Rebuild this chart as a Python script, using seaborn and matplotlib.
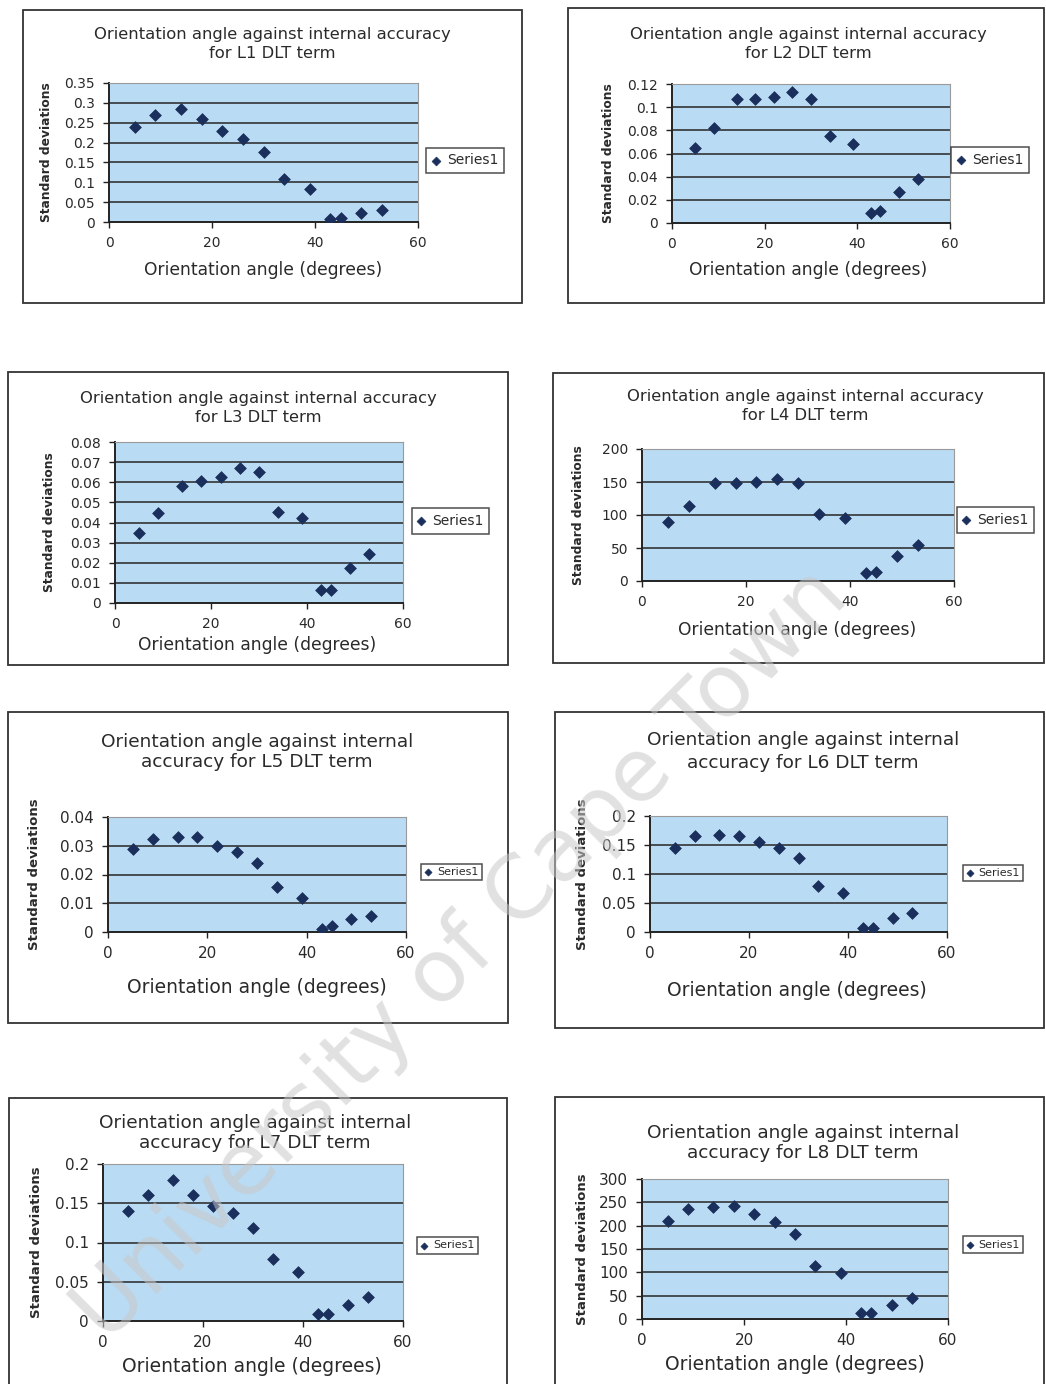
import numpy as np
import pandas as pd
import matplotlib
matplotlib.use("Agg")
import matplotlib.pyplot as plt
from matplotlib.patches import Rectangle
from matplotlib.ticker import FuncFormatter
import seaborn as sns

# Orientation angles (degrees), shared by every DLT term
angles = [5, 9, 14, 18, 22, 26, 30, 34, 39, 43, 45, 49, 53]

# Standard deviations of each DLT term
sd_L1 = [0.24, 0.27, 0.285, 0.26, 0.23, 0.21, 0.175, 0.108, 0.082, 0.008, 0.009, 0.023, 0.030]
sd_L2 = [0.065, 0.082, 0.107, 0.107, 0.109, 0.113, 0.107, 0.075, 0.068, 0.009, 0.010, 0.027, 0.038]
sd_L3 = [0.035, 0.0445, 0.058, 0.0605, 0.0625, 0.067, 0.065, 0.045, 0.042, 0.0065, 0.0065, 0.0175, 0.0245]
sd_L4 = [90, 114, 148, 148, 150, 155, 148, 102, 96, 12.5, 14, 38, 54]
sd_L5 = [0.029, 0.0325, 0.033, 0.033, 0.030, 0.028, 0.024, 0.0155, 0.012, 0.001, 0.002, 0.0045, 0.0055]
sd_L6 = [0.145, 0.166, 0.168, 0.166, 0.155, 0.145, 0.127, 0.080, 0.067, 0.007, 0.007, 0.024, 0.033]
sd_L7 = [0.14, 0.16, 0.18, 0.16, 0.146, 0.137, 0.119, 0.079, 0.063, 0.0085, 0.0085, 0.021, 0.030]
sd_L8 = [210, 235, 241, 243, 226, 208, 182, 114, 98, 12, 13.5, 31, 44]

terms = ["L1", "L2", "L3", "L4", "L5", "L6", "L7", "L8"]
series = [sd_L1, sd_L2, sd_L3, sd_L4, sd_L5, sd_L6, sd_L7, sd_L8]
y_max = [0.35, 0.12, 0.08, 200, 0.04, 0.2, 0.2, 300]
y_step = [0.05, 0.02, 0.01, 50, 0.01, 0.05, 0.05, 50]
x_ticks = [0, 20, 40, 60]
legend_label = "Series1"
x_label = "Orientation angle (degrees)"
y_label = "Standard deviations"

W, H = 1046, 1384
sns.set_theme(style="white")
plt.rcParams["font.family"] = ["DejaVu Sans"]

fig = plt.figure(figsize=(W / 100, H / 100), dpi=100)
fig.patch.set_facecolor("white")


def fx(x):
    return x / W


def fy(y):
    return 1 - y / H


# layout in pixels: outer frame, plot area, title centre/lines, x label, y label x, legend box
layout = [
    dict(frame=(23, 10, 522, 303), plot=(109, 83, 418, 222), title=(272, 35, 53), xl=(263, 270), ylx=47, leg=(422, 148, 508, 173), small=False),
    dict(frame=(568, 8, 1044, 303), plot=(672, 84, 950, 223), title=(808, 34, 53), xl=(808, 270), ylx=608, leg=(948, 148, 1032, 172), small=False),
    dict(frame=(8, 372, 508, 665), plot=(115, 442, 403, 603), title=(258, 398, 418), xl=(257, 645), ylx=50, leg=(408, 508, 493, 534), small=False),
    dict(frame=(553, 373, 1044, 663), plot=(642, 449, 954, 581), title=(805, 396, 415), xl=(797, 630), ylx=578, leg=(952, 507, 1039, 533), small=False),
    dict(frame=(8, 712, 508, 1023), plot=(108, 817, 406, 932), title=(257, 742, 762), xl=(257, 987), ylx=35, leg=(416, 862, 487, 882), small=True),
    dict(frame=(555, 712, 1044, 1028), plot=(650, 816, 947, 932), title=(803, 740, 763), xl=(797, 990), ylx=583, leg=(958, 863, 1028, 883), small=True),
    dict(frame=(9, 1098, 507, 1392), plot=(103, 1164, 403, 1321), title=(255, 1123, 1143), xl=(252, 1367), ylx=37, leg=(412, 1238, 483, 1253), small=True),
    dict(frame=(555, 1097, 1044, 1392), plot=(642, 1179, 948, 1319), title=(803, 1133, 1153), xl=(795, 1365), ylx=582, leg=(958, 1236, 1028, 1253), small=True),
]

plot_bg = "#b9dbf3"
marker_col = "#1b2f5c"
text_col = "#2a2a2a"

for i, (term, vals, lay) in enumerate(zip(terms, series, layout)):
    # outer chart frame
    x0, y0, x1, y1 = lay["frame"]
    fig.patches.append(Rectangle((fx(x0), fy(y1)), fx(x1 - x0), (y1 - y0) / H,
                                 transform=fig.transFigure, fill=False,
                                 edgecolor="#333333", linewidth=1.3, zorder=0))

    px0, py0, px1, py1 = lay["plot"]
    ax = fig.add_axes([fx(px0), fy(py1), fx(px1 - px0), (py1 - py0) / H])
    ax.set_facecolor(plot_bg)

    df = pd.DataFrame({"angle": angles, "sd": vals})
    sns.scatterplot(data=df, x="angle", y="sd", marker="D", s=36,
                    color=marker_col, edgecolor=marker_col, linewidth=0.5,
                    label=legend_label, ax=ax, zorder=3)

    ax.set_xlim(0, 60)
    ax.set_ylim(0, y_max[i])
    ax.set_xticks(x_ticks)
    yt = np.arange(0, y_max[i] + y_step[i] / 2, y_step[i])
    ax.set_yticks(yt)
    ax.yaxis.set_major_formatter(FuncFormatter(lambda v, p: f"{round(v, 6):g}"))
    for v in yt[1:]:
        ax.axhline(v, color="#262626", linewidth=1.1, zorder=1)

    tick_fs = 10 if not lay["small"] else 11
    ax.tick_params(axis="both", which="major", direction="out", length=4,
                   width=1.0, color="#222222", labelsize=tick_fs,
                   labelcolor=text_col, pad=6, left=True, bottom=True)
    for side in ("left", "bottom"):
        ax.spines[side].set_color("#222222")
        ax.spines[side].set_linewidth(1.4)
    for side in ("top", "right"):
        ax.spines[side].set_color("#9a9a9a")
        ax.spines[side].set_linewidth(0.8)

    pw, ph = px1 - px0, py1 - py0
    lab_fs = 12.3 if not lay["small"] else 13.5
    ax.set_xlabel(x_label, fontsize=lab_fs, color=text_col)
    ax.xaxis.set_label_coords((lay["xl"][0] - px0) / pw, -(lay["xl"][1] - py1) / ph)
    ax.xaxis.label.set_va("center")
    ax.set_ylabel(y_label, fontsize=8.8 if not lay["small"] else 9.5,
                  color=text_col, fontweight="bold")
    ax.yaxis.set_label_coords(-(px0 - lay["ylx"]) / pw, 0.5)
    ax.yaxis.label.set_va("center")

    # chart title in two lines
    tcx, t1, t2 = lay["title"]
    if not lay["small"]:
        line1 = "Orientation angle against internal accuracy"
        line2 = f"for {term} DLT term"
        t_fs = 11.8
    else:
        line1 = "Orientation angle against internal"
        line2 = f"accuracy for {term} DLT term"
        t_fs = 13.3
    fig.text(fx(tcx), fy(t1), line1, ha="center", va="center", fontsize=t_fs, color=text_col)
    fig.text(fx(tcx), fy(t2), line2, ha="center", va="center", fontsize=t_fs, color=text_col)

    # legend box to the right of the plot area
    lx0, ly0, lx1, ly1 = lay["leg"]
    leg_fs = 10 if not lay["small"] else 8
    leg = ax.legend(loc="center", bbox_to_anchor=(fx((lx0 + lx1) / 2), fy((ly0 + ly1) / 2)),
                    bbox_transform=fig.transFigure, fontsize=leg_fs, frameon=True,
                    fancybox=False, handlelength=0.6, handletextpad=0.5,
                    borderpad=0.4 if not lay["small"] else 0.3,
                    markerscale=0.75 if not lay["small"] else 0.6)
    leg.get_frame().set_edgecolor("#222222")
    leg.get_frame().set_linewidth(1.1)
    for t in leg.get_texts():
        t.set_color(text_col)

# diagonal institutional watermark across the page
fig.text(fx(462), fy(955), "University of Cape Town", rotation=45,
         rotation_mode="anchor", ha="center", va="center", fontsize=63,
         color="#c8c8c8", alpha=0.55, zorder=20)

fig.savefig("out.png", dpi=100, facecolor="white")
